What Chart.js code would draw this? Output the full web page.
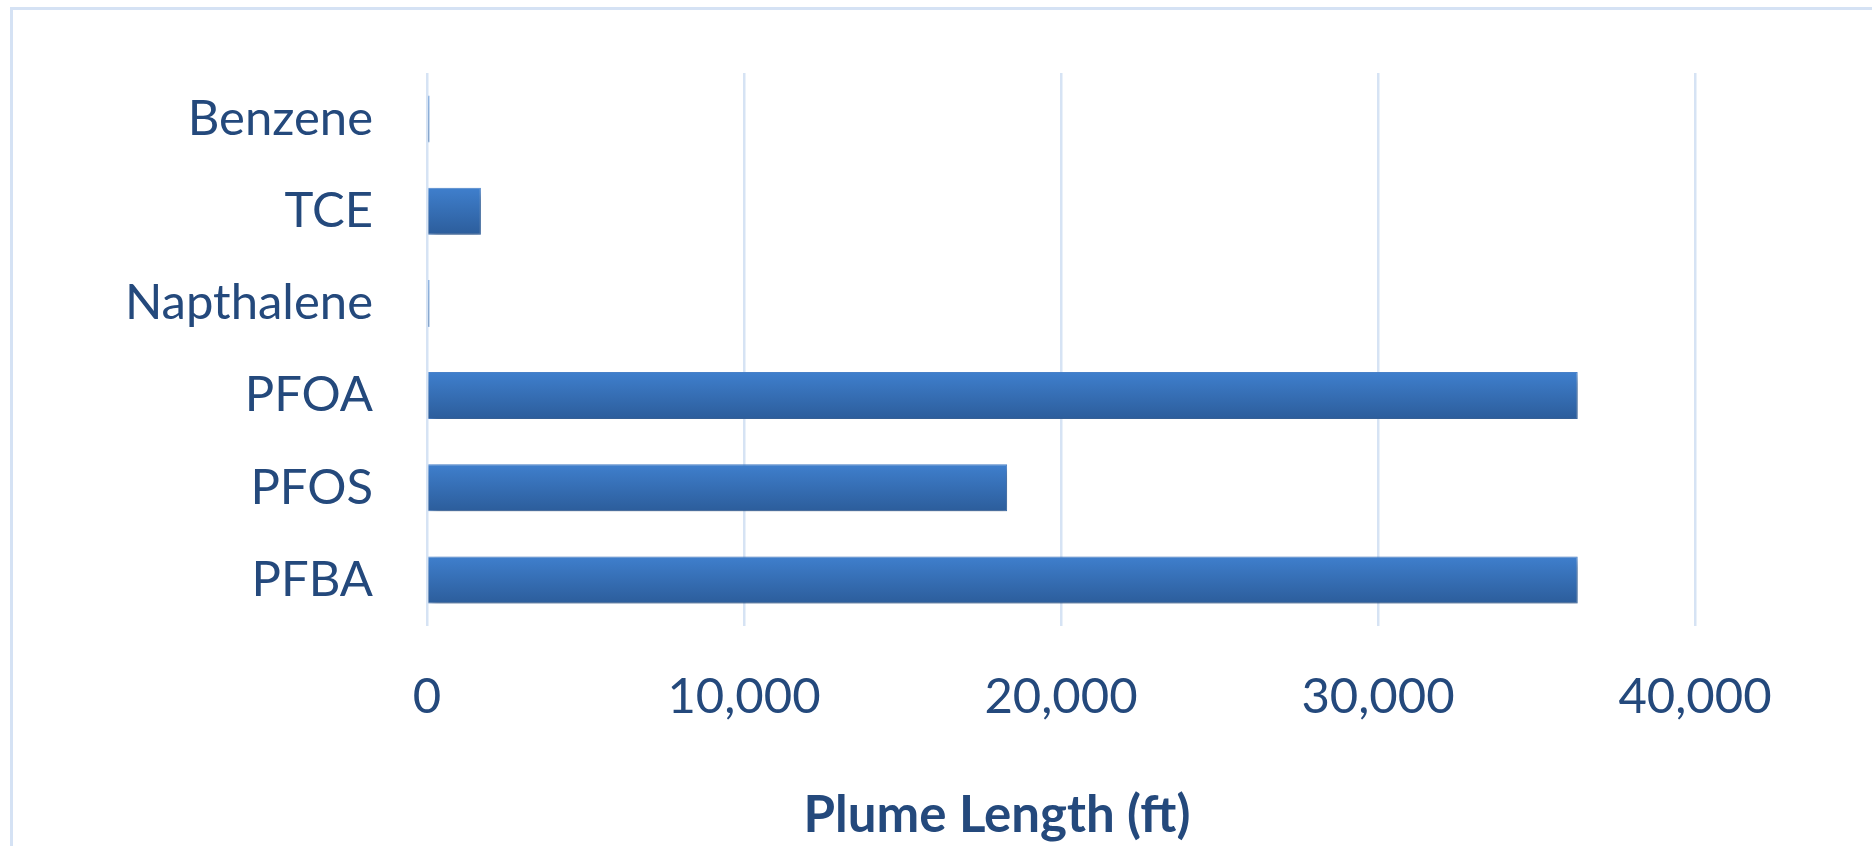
<!DOCTYPE html>
<html>
<head>
<meta charset="utf-8">
<title>Plume Length</title>
<script src="https://cdn.jsdelivr.net/npm/chart.js@4.4.1/dist/chart.umd.min.js"></script>
<style>
    body { margin: 0; background: #fff; overflow: hidden; }
    #frame {
        position: absolute; left: 10px; top: 7px; width: 2000px; height: 1000px;
        border-left: 3px solid #d5e2f4; border-top: 3px solid #d5e2f4;
    }
    #js--plume { position: absolute; left: 0; top: 0; }
</style>
</head>
<body>
<div id="frame"></div>
<canvas id="js--plume" width="1872" height="846"></canvas>
<script>
// plume lengths per compound (ft)
var compounds = ['Benzene', 'TCE', 'Napthalene', 'PFOA', 'PFOS', 'PFBA'];
var plumeLength = [80, 1700, 80, 36300, 18300, 36300];
var xTicks = [0, 10000, 20000, 30000, 40000];

var textColor = '#24497c';
var gridColor = '#d6e3f4';

// gradient per bar, top lighter than bottom
function barGradient(context) {
    var chart = context.chart;
    var y = chart.scales.y;
    if (!chart.chartArea || !y) return '#3470b8';
    var center = y.getPixelForValue(context.dataIndex);
    var half = (y.getPixelForValue(1) - y.getPixelForValue(0)) * 0.255;
    var g = chart.ctx.createLinearGradient(0, center - half, 0, center + half);
    g.addColorStop(0, '#3f7fcd');
    g.addColorStop(1, '#2c5d9b');
    return g;
}

// soft drop shadow under the bars
var barShadow = {
    id: 'barShadow',
    beforeDatasetsDraw: function (chart) {
        var ctx = chart.ctx;
        ctx.save();
        ctx.shadowColor = 'rgba(0, 0, 0, 0.35)';
        ctx.shadowBlur = 9;
        ctx.shadowOffsetX = 3;
        ctx.shadowOffsetY = 5;
    },
    afterDatasetsDraw: function (chart) {
        chart.ctx.restore();
    }
};

var ctx = document.getElementById('js--plume');
var myChart = new Chart(ctx, {
    type: 'bar',
    data: {
        labels: compounds,
        datasets: [{
            label: 'Plume Length (ft)',
            data: plumeLength,
            backgroundColor: barGradient,
            borderColor: '#4b85cf',
            borderWidth: 1,
            barPercentage: 0.51,
            categoryPercentage: 1
        }]
    },
    options: {
        indexAxis: 'y',
        responsive: false,
        animation: false,
        layout: { padding: { left: 299, right: 177, top: 73, bottom: 0 } },
        plugins: {
            legend: { display: false },
            tooltip: { enabled: false },
            title: {
                display: true,
                position: 'bottom',
                text: 'Plume Length (ft)',
                color: textColor,
                font: { family: 'Lato', size: 51, weight: 'bold' },
                padding: { top: 0, bottom: 0 }
            }
        },
        scales: {
            x: {
                min: 0,
                max: 40000,
                afterBuildTicks: function (scale) {
                    scale.ticks = xTicks.map(function (v) { return { value: v }; });
                },
                afterFit: function (scale) { scale.height = 158.8; },
                grid: { color: gridColor, lineWidth: 2.5, drawTicks: false },
                border: { display: false },
                ticks: {
                    color: textColor,
                    font: { family: 'Lato', size: 49 },
                    padding: 42,
                    maxRotation: 0,
                    callback: function (v) { return v.toLocaleString('en-US'); }
                }
            },
            y: {
                afterFit: function (scale) {
                    scale.width = 128;
                    scale.paddingTop = 0;
                    scale.paddingBottom = 0;
                    // names run past the narrow axis box, so don't clip them
                    scale._computeLabelArea = function () {};
                },
                grid: { display: false, drawTicks: false },
                border: { display: false },
                ticks: {
                    color: textColor,
                    font: { family: 'Lato', size: 49 },
                    padding: 54
                }
            }
        }
    },
    plugins: [barShadow]
});
</script>
</body>
</html>
